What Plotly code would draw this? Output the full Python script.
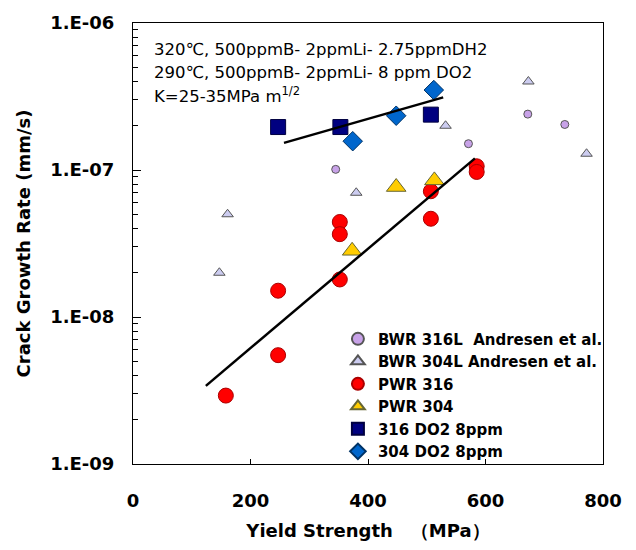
import plotly.graph_objects as go

# ---- data ----
bwr316_x = [345, 571, 672, 735]
bwr316_y = [1.01e-7, 1.51e-7, 2.4e-7, 2.04e-7]

bwr304_x = [147, 161, 380, 532, 673, 772]
bwr304_y = [2.0e-8, 5.0e-8, 7.0e-8, 2.0e-7, 4.0e-7, 1.29e-7]

pwr316_x = [158, 247, 247, 352, 352, 352, 507, 507, 585, 585]
pwr316_y = [2.92e-9, 5.5e-9, 1.51e-8, 1.8e-8, 4.43e-8, 3.66e-8, 7.17e-8, 4.66e-8, 1.06e-7, 9.7e-8]

pwr304_x = [373, 448, 513]
pwr304_y = [2.82e-8, 7.66e-8, 8.5e-8]

do316_x = [247, 353, 507]
do316_y = [1.96e-7, 1.96e-7, 2.38e-7]

do304_x = [374, 448, 512]
do304_y = [1.57e-7, 2.34e-7, 3.5e-7]

fit_pwr_x = [124, 582]
fit_pwr_y = [3.4e-9, 1.2e-7]
fit_do_x = [257, 528]
fit_do_y = [1.53e-7, 3.12e-7]

y_tickvals = [1e-9, 1e-8, 1e-7, 1e-6]
y_ticktext = ["1.E-09", "1.E-08", "1.E-07", "1.E-06"]
x_tickvals = [0, 200, 400, 600, 800]

minor_vals = [m * 10.0 ** e for e in (-9, -8, -7) for m in range(2, 10)]

FONT = "DejaVu Sans"

fig = go.Figure()

def add(x, y, name, symbol, color, size, lc="#333333", lw=1):
    fig.add_trace(go.Scatter(
        x=x, y=y, mode="markers", name=name,
        marker=dict(symbol=symbol, color=color, size=size,
                    line=dict(color=lc, width=lw)),
    ))

add(bwr316_x, bwr316_y, "BWR 316L  Andresen et al.", "circle", "#C8A2E8", 8, "#555555", 1)
add(bwr304_x, bwr304_y, "BWR 304L Andresen et al.", "triangle-up", "#CCCCF0", 10, "#555555", 1)
add(pwr316_x, pwr316_y, "PWR 316", "circle", "#FF0000", 15, "#AA0000", 1)
add(pwr304_x, pwr304_y, "PWR 304", "triangle-up", "#FFCC00", 17, "#666633", 1)
add(do316_x, do316_y, "316 DO2 8ppm", "square", "#000080", 15, "#000040", 1)
add(do304_x, do304_y, "304 DO2 8ppm", "diamond", "#0066CC", 15, "#003366", 1)

for fx, fy in ((fit_pwr_x, fit_pwr_y), (fit_do_x, fit_do_y)):
    fig.add_trace(go.Scatter(x=fx, y=fy, mode="lines", showlegend=False,
                             line=dict(color="black", width=2.5)))

ann_lines = [
    "320℃, 500ppmB- 2ppmLi- 2.75ppmDH2",
    "290℃, 500ppmB- 2ppmLi- 8 ppm DO2",
    "K=25-35MPa m<sup>1/2</sup>",
]
for i, t in enumerate(ann_lines):
    fig.add_annotation(x=0.04, y=0.939 - i * 0.0515, xref="paper", yref="paper",
                       text=t, showarrow=False, xanchor="left", yanchor="middle",
                       font=dict(family=FONT, size=16.5, color="black"))

fig.update_layout(
    width=636, height=550,
    margin=dict(l=133, r=33, t=18, b=86),
    paper_bgcolor="white", plot_bgcolor="white",
    font=dict(family=FONT, color="black"),
    showlegend=True,
    legend=dict(x=0.436, y=0.3206, xanchor="left", yanchor="top",
                bgcolor="rgba(0,0,0,0)", borderwidth=0,
                itemsizing="constant",
                font=dict(family=FONT, size=15, weight="bold", color="black"),
                tracegroupgap=0),
    xaxis=dict(range=[0, 800], tickvals=x_tickvals,
               showline=True, linecolor="black", linewidth=1, mirror=True,
               ticks="inside", ticklen=5, tickcolor="black",
               showgrid=False, zeroline=False, ticklabelstandoff=20,
               tickfont=dict(family=FONT, size=18, weight="bold"),
               title=dict(text="Yield Strength　（MPa）",
                          font=dict(family=FONT, size=18, weight="bold"),
                          standoff=14)),
    yaxis=dict(type="log", range=[-9, -6], tickvals=y_tickvals, ticktext=y_ticktext,
               showline=True, linecolor="black", linewidth=1, mirror=True,
               ticks="inside", ticklen=8, tickcolor="black",
               showgrid=False, zeroline=False, ticklabelstandoff=14,
               minor=dict(tickvals=minor_vals, ticks="inside", ticklen=5,
                          tickcolor="black", showgrid=False),
               tickfont=dict(family=FONT, size=18, weight="bold"),
               title=dict(text="Crack Growth Rate (mm/s)",
                          font=dict(family=FONT, size=18, weight="bold"),
                          standoff=14)),
)

fig.write_html("out.html")
